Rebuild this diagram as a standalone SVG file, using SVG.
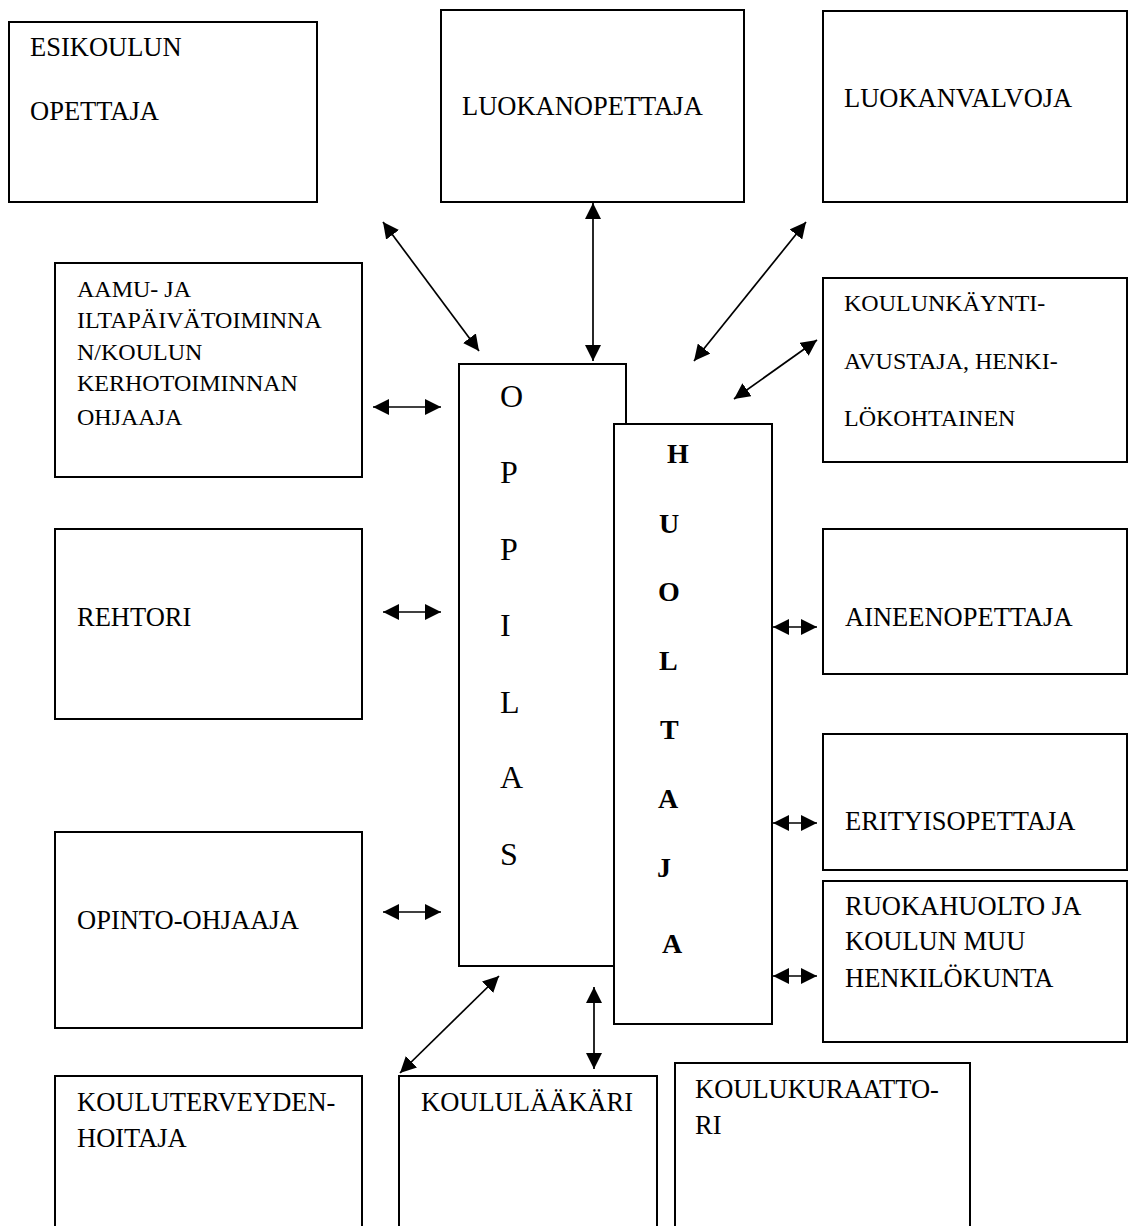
<svg xmlns="http://www.w3.org/2000/svg" width="1128" height="1226" viewBox="0 0 1128 1226">
<defs>
<marker id="ah" viewBox="0 0 16 16" refX="16" refY="8" markerWidth="16" markerHeight="16" markerUnits="userSpaceOnUse" orient="auto-start-reverse">
<path d="M0,0 L16,8 L0,16 z" fill="#000"/>
</marker>
</defs>
<style>
.box{fill:#fff;stroke:#000;stroke-width:2}
.t{font-family:"Liberation Serif","Times New Roman",serif;font-size:26.5px;fill:#000}
.s{font-size:24px}
.big{font-size:32px}
.b{font-weight:bold;font-size:28px}
.c line{stroke:#000;stroke-width:1.7;marker-start:url(#ah);marker-end:url(#ah)}
</style>
<rect width="1128" height="1226" fill="#fff"/>

<g id="esikoulun">
<rect class="box" x="9" y="22" width="308" height="180"/>
<text class="t" x="30" y="56">ESIKOULUN</text>
<text class="t" x="30" y="120">OPETTAJA</text>
</g>
<g id="luokanopettaja">
<rect class="box" x="441" y="10" width="303" height="192"/>
<text class="t" x="462" y="115">LUOKANOPETTAJA</text>
</g>
<g id="luokanvalvoja">
<rect class="box" x="823" y="11" width="304" height="191"/>
<text class="t" x="844" y="107">LUOKANVALVOJA</text>
</g>
<g id="aamu">
<rect class="box" x="55" y="263" width="307" height="214"/>
<text class="t s" x="77" y="297">AAMU- JA</text>
<text class="t s" x="77" y="328">ILTAPÄIVÄTOIMINNA</text>
<text class="t s" x="77" y="360">N/KOULUN</text>
<text class="t s" x="77" y="391">KERHOTOIMINNAN</text>
<text class="t s" x="77" y="425">OHJAAJA</text>
</g>
<g id="koulunkaynti">
<rect class="box" x="823" y="278" width="304" height="184"/>
<text class="t s" x="844" y="311">KOULUNKÄYNTI-</text>
<text class="t s" x="844" y="369">AVUSTAJA, HENKI-</text>
<text class="t s" x="844" y="426">LÖKOHTAINEN</text>
</g>
<g id="rehtori">
<rect class="box" x="55" y="529" width="307" height="190"/>
<text class="t" x="77" y="626">REHTORI</text>
</g>
<g id="opinto">
<rect class="box" x="55" y="832" width="307" height="196"/>
<text class="t" x="77" y="929">OPINTO-OHJAAJA</text>
</g>
<g id="aineenopettaja">
<rect class="box" x="823" y="529" width="304" height="145"/>
<text class="t" x="845" y="626">AINEENOPETTAJA</text>
</g>
<g id="erityisopettaja">
<rect class="box" x="823" y="734" width="304" height="136"/>
<text class="t" x="845" y="830">ERITYISOPETTAJA</text>
</g>
<g id="ruokahuolto">
<rect class="box" x="823" y="881" width="304" height="161"/>
<text class="t" x="845" y="915">RUOKAHUOLTO JA</text>
<text class="t" x="845" y="950">KOULUN MUU</text>
<text class="t" x="845" y="987">HENKILÖKUNTA</text>
</g>
<g id="oppilas">
<rect class="box" x="459" y="364" width="167" height="602"/>
<text class="t big" x="500" y="407">O</text>
<text class="t big" x="500" y="483">P</text>
<text class="t big" x="500" y="560">P</text>
<text class="t big" x="500" y="636">I</text>
<text class="t big" x="500" y="713">L</text>
<text class="t big" x="500" y="788">A</text>
<text class="t big" x="500" y="865">S</text>
</g>
<g id="huoltaja">
<rect class="box" x="614" y="424" width="158" height="600"/>
<text class="t b" x="667" y="463">H</text>
<text class="t b" x="659" y="533">U</text>
<text class="t b" x="658" y="601">O</text>
<text class="t b" x="659" y="670">L</text>
<text class="t b" x="660" y="739">T</text>
<text class="t b" x="658" y="808">A</text>
<text class="t b" x="657" y="877">J</text>
<text class="t b" x="662" y="953">A</text>
</g>
<g id="kouluterveydenhoitaja">
<path class="box" d="M55,1230 V1076 H362 V1230"/>
<text class="t" x="77" y="1111">KOULUTERVEYDEN-</text>
<text class="t" x="77" y="1147">HOITAJA</text>
</g>
<g id="koululaakari">
<path class="box" d="M399,1230 V1076 H657 V1230"/>
<text class="t" x="421" y="1111">KOULULÄÄKÄRI</text>
</g>
<g id="koulukuraattori">
<path class="box" d="M675,1230 V1063 H970 V1230"/>
<text class="t" x="695" y="1098">KOULUKURAATTO-</text>
<text class="t" x="695" y="1134">RI</text>
</g>

<g id="connectors" class="c">
<line x1="383" y1="222" x2="479" y2="351"/>
<line x1="593" y1="203" x2="593" y2="361"/>
<line x1="806" y1="222" x2="694" y2="361"/>
<line x1="817" y1="340" x2="734" y2="399"/>
<line x1="373" y1="407" x2="441" y2="407"/>
<line x1="383" y1="612" x2="441" y2="612"/>
<line x1="383" y1="912" x2="441" y2="912"/>
<line x1="773" y1="627" x2="817" y2="627"/>
<line x1="773" y1="823" x2="817" y2="823"/>
<line x1="773" y1="976" x2="817" y2="976"/>
<line x1="499" y1="976" x2="400" y2="1073"/>
<line x1="594" y1="987" x2="594" y2="1069"/>
</g>
</svg>
